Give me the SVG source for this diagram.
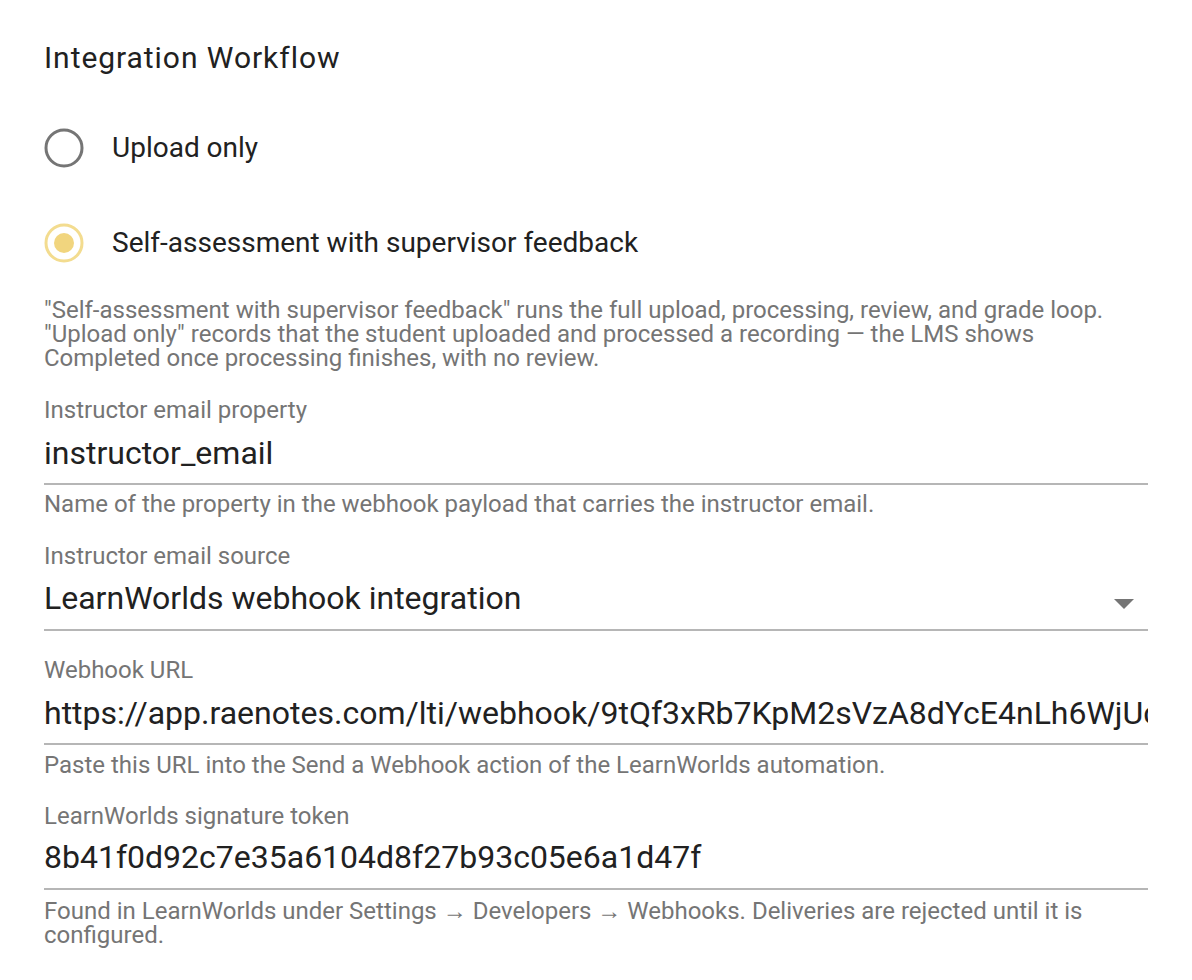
<svg xmlns="http://www.w3.org/2000/svg" width="1192" height="980" viewBox="0 0 1192 980">
<style>
text{font-family:Roboto,"Liberation Sans",sans-serif}
.t{font-size:30px;fill:#212121;letter-spacing:0.95px}
.opt{font-size:28px;fill:#212121}
.h{font-size:24px;fill:#757575}
.v{font-size:32px;fill:#212121}
.u{stroke:#9e9e9e;stroke-width:1.5}
</style>
<defs><clipPath id="c"><rect x="40" y="680" width="1108" height="60"/></clipPath></defs>
<rect width="1192" height="980" fill="#fff"/>
<text class="t" x="44" y="68">Integration Workflow</text>
<g id="radio-upload"><circle cx="64" cy="148" r="18" fill="none" stroke="#757575" stroke-width="3"/><text class="opt" x="112" y="157">Upload only</text></g>
<g id="radio-self"><circle cx="64" cy="243" r="18" fill="none" stroke="#f3dc8f" stroke-width="3"/><circle cx="64" cy="243" r="10" fill="#f1d57e"/><text class="opt" x="112" y="252">Self-assessment with supervisor feedback</text></g>
<text class="h" x="44" y="318">"Self-assessment with supervisor feedback" runs the full upload, processing, review, and grade loop.</text>
<text class="h" x="44" y="342">"Upload only" records that the student uploaded and processed a recording — the LMS shows</text>
<text class="h" x="44" y="366">Completed once processing finishes, with no review.</text>
<g id="f1"><text class="h" x="44" y="418">Instructor email property</text><text class="v" x="44" y="464">instructor_email</text><line class="u" x1="44" y1="484" x2="1148" y2="484"/><text class="h" x="44" y="512">Name of the property in the webhook payload that carries the instructor email.</text></g>
<g id="f2"><text class="h" x="44" y="564">Instructor email source</text><text class="v" x="44" y="609">LearnWorlds webhook integration</text><polygon points="1114,599 1134,599 1124,609" fill="#757575"/><line class="u" x1="44" y1="630" x2="1148" y2="630"/></g>
<g id="f3"><text class="h" x="44" y="678">Webhook URL</text><text class="v" x="44" y="724" clip-path="url(#c)">https://app.raenotes.com/lti/webhook/9tQf3xRb7KpM2sVzA8dYcE4nLh6WjUc</text><line class="u" x1="44" y1="744" x2="1148" y2="744"/><text class="h" x="44" y="773">Paste this URL into the Send a Webhook action of the LearnWorlds automation.</text></g>
<g id="f4"><text class="h" x="44" y="824">LearnWorlds signature token</text><text class="v" x="44" y="868">8b41f0d92c7e35a6104d8f27b93c05e6a1d47f</text><line class="u" x1="44" y1="889" x2="1148" y2="889"/><text class="h" x="44" y="919">Found in LearnWorlds under Settings → Developers → Webhooks. Deliveries are rejected until it is</text><text class="h" x="44" y="943">configured.</text></g>
</svg>
